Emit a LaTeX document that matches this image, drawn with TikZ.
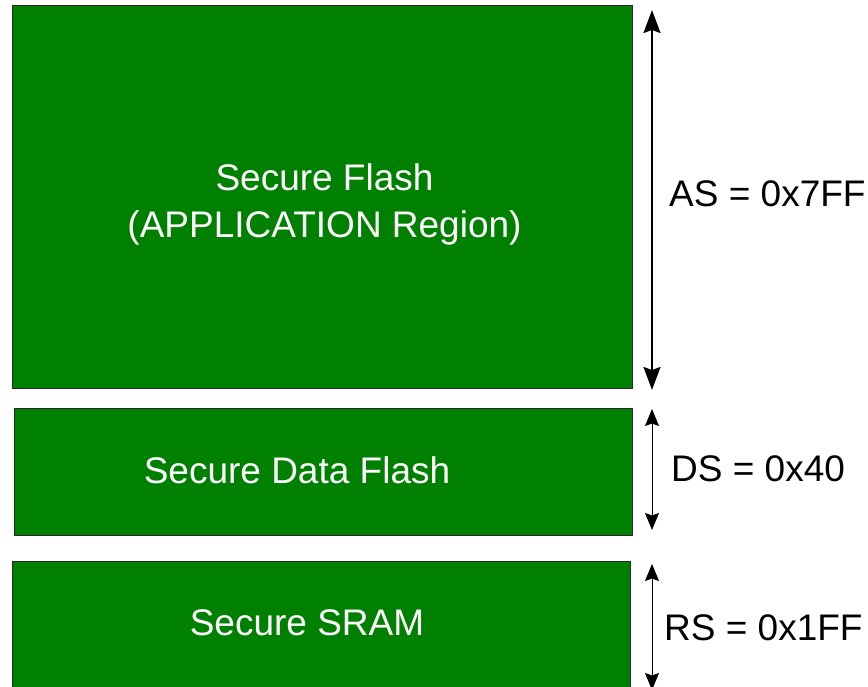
\documentclass[tikz,border=0pt]{standalone}
\usepackage{fontspec}
\setmainfont{Liberation Sans}
\usetikzlibrary{arrows.meta}
\definecolor{boxgreen}{RGB}{0,128,0}
\definecolor{boxedge}{RGB}{40,40,40}
\begin{document}
\begin{tikzpicture}[x=1pt,y=-1pt,
  membox/.style={draw=boxedge,fill=boxgreen,line width=1pt,inner sep=0pt,anchor=north west},
  boxtext/.style={text=white,font=\fontsize{37}{48}\selectfont,anchor=base,inner sep=0pt},
  sizetext/.style={text=black,font=\fontsize{37}{48}\selectfont,anchor=base west,inner sep=0pt},
  bigdim/.style={line width=2pt,{Stealth[length=23pt,width=17pt,inset=3pt]}-{Stealth[length=23pt,width=17pt,inset=3pt]}},
  smalldim/.style={line width=1pt,{Stealth[length=17pt,width=14pt,inset=2.5pt]}-{Stealth[length=17pt,width=14pt,inset=2.5pt]}}]
\useasboundingbox (0,0) rectangle (868,687);
\clip (0,0) rectangle (868,687);

% memory regions
\node (flash) [membox,minimum width=620pt,minimum height=383pt] at (12,5) {};
\node (dataflash) [membox,minimum width=618pt,minimum height=127pt] at (14,408) {};
\node (sram) [membox,minimum width=618pt,minimum height=139pt] at (12,561) {};

% region labels
\node (flashtitle) [boxtext] at (324.5,190.5) {Secure Flash};
\node (flashsub) [boxtext] at (324.5,237.5) {(APPLICATION Region)};
\node (dataflashlabel) [boxtext] at (297,483) {Secure Data Flash};
\node (sramlabel) [boxtext] at (307,635) {Secure SRAM};

% dimension arrows
\coordinate (astop) at (652,10);
\coordinate (asbot) at (652,390);
\coordinate (dstop) at (652,409);
\coordinate (dsbot) at (652,530);
\coordinate (rstop) at (652,564);
\coordinate (rsbot) at (652,690);
\draw[bigdim] (astop) -- (asbot);
\draw[smalldim] (dstop) -- (dsbot);
\draw[smalldim] (rstop) -- (rsbot);

% size labels
\node (aslabel) [sizetext] at (669,207) {AS = 0x7FF};
\node (dslabel) [sizetext] at (671,481) {DS = 0x40};
\node (rslabel) [sizetext] at (664,640) {RS = 0x1FF};
\end{tikzpicture}
\end{document}
